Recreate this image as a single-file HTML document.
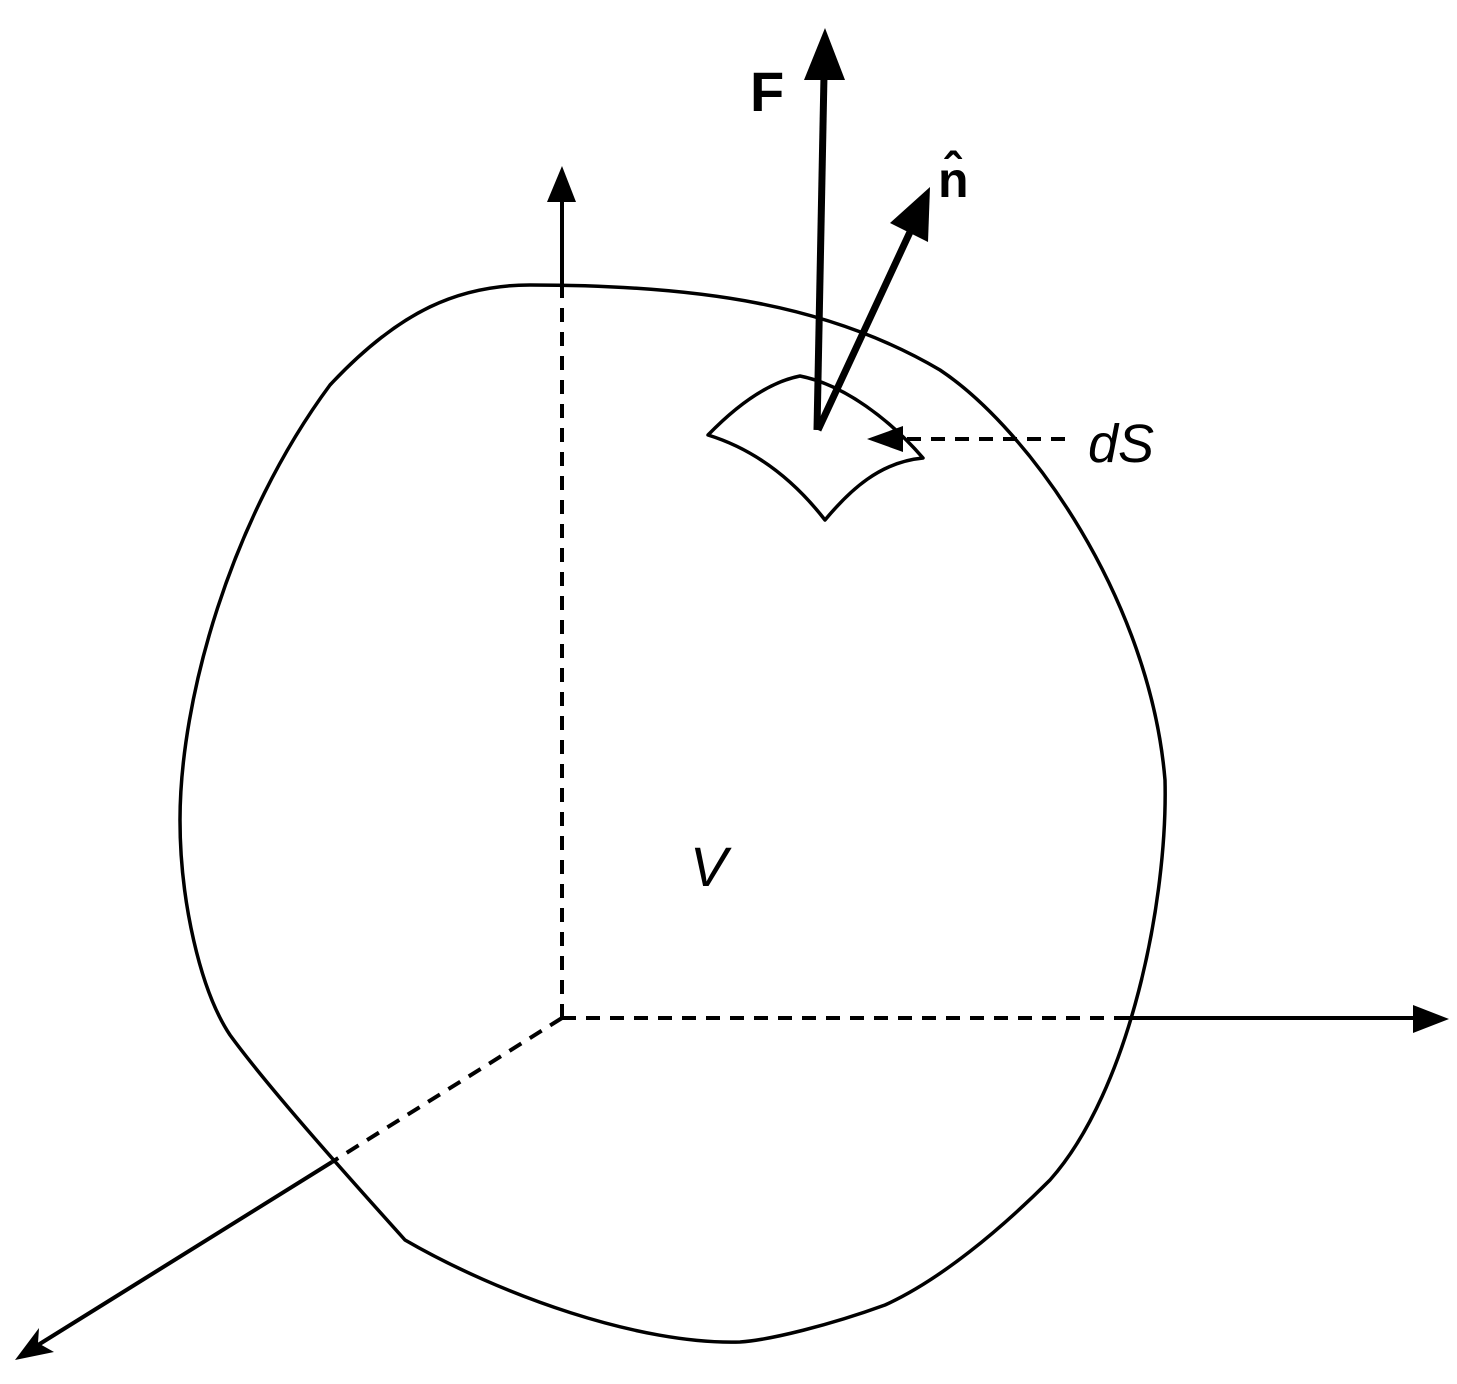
<!DOCTYPE html>
<html><head><meta charset="utf-8"><style>
html,body{margin:0;padding:0;background:#fff;}
svg{display:block;}
</style></head><body>
<svg width="1457" height="1384" viewBox="0 0 1457 1384" xmlns="http://www.w3.org/2000/svg">
<g fill="none" stroke="#000" stroke-width="3.5" stroke-linejoin="round">
<path d="M 230,1035 C 200,990 180,900 180,820 C 180,700 230,520 330,385 C 400,310 460,285 530,285 C 700,285 830,305 940,370 C 1030,430 1150,600 1165,780 C 1168,900 1130,1090 1050,1180 C 1000,1230 940,1280 885,1305 C 830,1325 770,1340 740,1342 C 640,1345 500,1295 405,1240 C 360,1190 270,1090 230,1035 Z"/>
<!-- dS patch -->
<path d="M 708,435 C 740,402 770,382 800,376 C 845,385 890,420 923,458 C 880,462 850,490 825,520 C 790,475 750,448 708,435 Z"/>
</g>
<g stroke="#000" stroke-width="4" fill="none">
<line x1="562" y1="1018" x2="562" y2="290" stroke-dasharray="14,10"/>
<line x1="562" y1="296" x2="562" y2="200"/>
<line x1="562" y1="1018" x2="1130" y2="1018" stroke-dasharray="14,10"/>
<line x1="1128" y1="1018" x2="1415" y2="1018"/>
<line x1="562" y1="1018" x2="332" y2="1162" stroke-dasharray="14,10"/>
<line x1="332" y1="1162" x2="38" y2="1345"/>
<line x1="1065" y1="439" x2="905" y2="439" stroke-dasharray="14,10"/>
</g>
<g fill="#000">
<polygon points="562,166 547,202 576,202"/>
<polygon points="1449,1019 1413,1005 1413,1033"/>
<polygon points="15,1360 39,1328 38,1343 54,1352"/>
<polygon points="867,439 903,426 903,452"/>
</g>
<!-- F and n vectors -->
<g stroke="#000" stroke-width="7" stroke-linecap="butt">
<line x1="817" y1="430" x2="824" y2="75"/>
<line x1="818" y1="430" x2="910" y2="232"/>
</g>
<g fill="#000">
<polygon points="825,28 804,80 845,80"/>
<polygon points="930,187 890,223 928,242"/>
</g>
<g font-family="Liberation Sans, DejaVu Sans, sans-serif" fill="#000">
<text x="750" y="111" font-size="56" font-weight="bold">F</text>
<text x="938" y="197" font-size="50" font-weight="bold">n̂</text>
<text x="1088" y="462" font-size="54" font-style="italic">dS</text>
<text x="690" y="886" font-size="56" font-style="italic">V</text>
</g>
</svg>
</body></html>
